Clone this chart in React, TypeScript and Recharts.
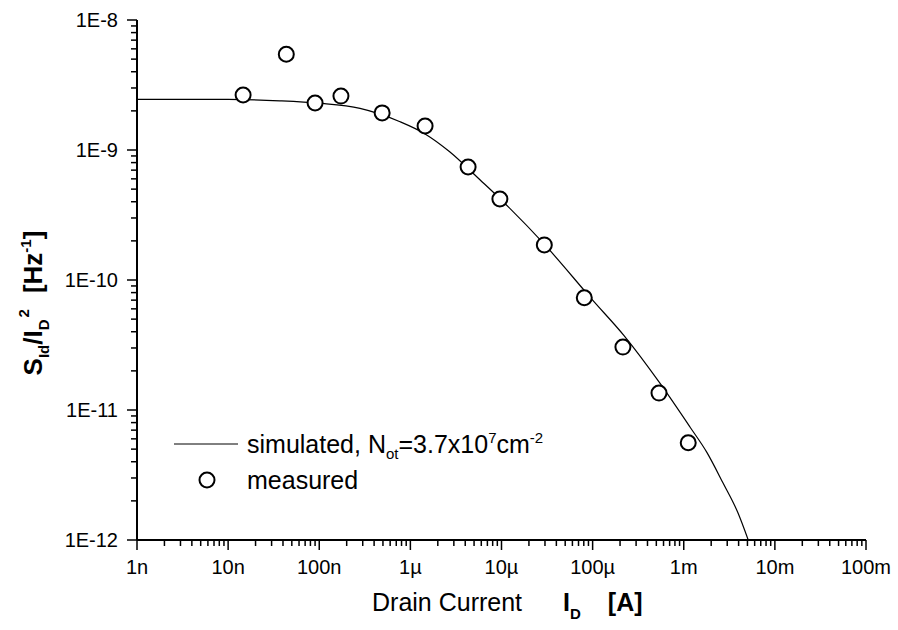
import { ComposedChart, Line, Scatter, XAxis, YAxis, Legend, Label } from 'recharts';

// measured points (drain current in A, normalized noise in 1/Hz)
const measuredCurrent = [1.46e-8, 4.35e-8, 9.0e-8, 1.73e-7, 4.9e-7, 1.45e-6, 4.3e-6, 9.6e-6, 2.95e-5, 8.1e-5, 2.15e-4, 5.35e-4, 1.12e-3];
const measuredNoise = [2.65e-9, 5.45e-9, 2.3e-9, 2.6e-9, 1.93e-9, 1.53e-9, 7.4e-10, 4.2e-10, 1.86e-10, 7.3e-11, 3.05e-11, 1.35e-11, 5.6e-12];

// simulated curve
const simCurrent = [1e-9, 1e-8, 3.7e-8, 1.0e-7, 2.8e-7, 7.7e-7, 1.45e-6, 2.7e-6, 5.8e-6, 9.7e-6, 3.0e-5, 1.0e-4, 2.2e-4, 5.5e-4, 1.17e-3, 1.8e-3, 2.7e-3, 3.9e-3, 5.1e-3];
const simNoise = [2.45e-9, 2.45e-9, 2.39e-9, 2.29e-9, 2.09e-9, 1.65e-9, 1.33e-9, 9.7e-10, 5.9e-10, 4.2e-10, 1.86e-10, 7.0e-11, 3.75e-11, 1.6e-11, 7.4e-12, 4.7e-12, 2.74e-12, 1.64e-12, 1.0e-12];

// axis decades and their labels
const xDecades = [-9, -8, -7, -6, -5, -4, -3, -2, -1];
const xTickLabels = ['1n', '10n', '100n', '1µ', '10µ', '100µ', '1m', '10m', '100m'];
const yDecades = [-12, -11, -10, -9, -8];
const yTickLabels = ['1E-12', '1E-11', '1E-10', '1E-9', '1E-8'];

const measuredData = measuredCurrent.map((x, i) => ({ x, y: measuredNoise[i] }));
const simData = simCurrent.map((x, i) => ({ x, y: simNoise[i] }));

const buildTicks = (decades: number[], labels: string[]) => {
  const ticks: number[] = [];
  const majors = new Map<number, string>();
  decades.forEach((k, i) => {
    const base = Number(`1e${k}`);
    ticks.push(base);
    majors.set(base, labels[i]);
    if (i < decades.length - 1) {
      for (let m = 2; m <= 9; m++) ticks.push(m * base);
    }
  });
  return { ticks, majors };
};

const xt = buildTicks(xDecades, xTickLabels);
const yt = buildTicks(yDecades, yTickLabels);

const FONT = 'Arial, "Liberation Sans", sans-serif';

const XTick = (props: any) => {
  const { x, y, payload } = props;
  const label = xt.majors.get(payload.value);
  return (
    <g>
      <line x1={x} y1={y} x2={x} y2={y + (label ? 10 : 6)} stroke="#000" strokeWidth={1.5} />
      {label && (
        <text x={x} y={y + 34} textAnchor="middle" fontSize={20} fontFamily={FONT} fill="#000">
          {label}
        </text>
      )}
    </g>
  );
};

const YTick = (props: any) => {
  const { x, y, payload } = props;
  const label = yt.majors.get(payload.value);
  return (
    <g>
      <line x1={x} y1={y} x2={x - (label ? 10 : 6)} y2={y} stroke="#000" strokeWidth={1.5} />
      {label && (
        <text x={x - 19} y={y + 7} textAnchor="end" fontSize={20} fontFamily={FONT} fill="#000">
          {label}
        </text>
      )}
    </g>
  );
};

const YTitle = () => (
  <text
    transform="translate(42,303) rotate(-90)"
    textAnchor="middle"
    fontSize={26}
    fontWeight="bold"
    fontFamily={FONT}
    fill="#000"
  >
    S
    <tspan fontSize={15} dy={7}>Id</tspan>
    <tspan dy={-7}>/I</tspan>
    <tspan fontSize={15} dy={7}>D</tspan>
    <tspan fontSize={15} dy={-20} dx={2}>2</tspan>
    <tspan dy={13} dx={16}>[Hz</tspan>
    <tspan fontSize={15} dy={-11}>-1</tspan>
    <tspan dy={11}>]</tspan>
  </text>
);

const XTitle = () => (
  <text x={372} y={611} fontSize={25} fontFamily={FONT} fill="#000">
    Drain Current
    <tspan dx={41} fontWeight="bold">I</tspan>
    <tspan fontWeight="bold" fontSize={15} dy={8}>D</tspan>
    <tspan fontWeight="bold" dx={27} dy={-8}>[A]</tspan>
  </text>
);

const small = { fontSize: 15, lineHeight: 0, position: 'relative' as const };

const LegendBox = () => (
  <div style={{ fontFamily: FONT, fontSize: 25, color: '#000' }}>
    <div style={{ display: 'flex', alignItems: 'center', height: 36, lineHeight: '36px' }}>
      <svg width={64} height={36}>
        <line x1={0} y1={18} x2={64} y2={18} stroke="#000" strokeWidth={1} />
      </svg>
      <span style={{ marginLeft: 9 }}>
        simulated, N<span style={{ ...small, top: 6 }}>ot</span>=3.7x10
        <span style={{ ...small, top: -10 }}>7</span>cm
        <span style={{ ...small, top: -10 }}>-2</span>
      </span>
    </div>
    <div style={{ display: 'flex', alignItems: 'center', height: 36, lineHeight: '36px' }}>
      <svg width={64} height={36}>
        <circle cx={33} cy={18} r={7.5} fill="#fff" stroke="#000" strokeWidth={2} />
      </svg>
      <span style={{ marginLeft: 9 }}>measured</span>
    </div>
  </div>
);

const App = () => {
  return (
    <div style={{ width: 898, height: 630, background: '#fff' }}>
      <style>{'body{margin:0;}'}</style>
      <ComposedChart width={898} height={630} margin={{ top: 20, right: 32, left: 0, bottom: 0 }}>
        <XAxis
          type="number"
          dataKey="x"
          scale="log"
          domain={[1e-9, 1e-1]}
          allowDataOverflow
          ticks={xt.ticks}
          interval={0}
          tick={<XTick />}
          tickLine={false}
          tickSize={0}
          tickMargin={0}
          height={90}
          axisLine={{ stroke: '#000', strokeWidth: 2 }}
        >
          <Label content={<XTitle />} />
        </XAxis>
        <YAxis
          type="number"
          dataKey="y"
          scale="log"
          domain={[1e-12, 1e-8]}
          allowDataOverflow
          ticks={yt.ticks}
          interval={0}
          tick={<YTick />}
          tickLine={false}
          tickSize={0}
          tickMargin={0}
          width={137}
          axisLine={{ stroke: '#000', strokeWidth: 2 }}
        >
          <Label content={<YTitle />} />
        </YAxis>
        <Legend
          layout="horizontal"
          verticalAlign="middle"
          align="center"
          content={<LegendBox />}
          wrapperStyle={{ left: 174, top: 426, width: 420 }}
        />
        <Line
          data={simData}
          dataKey="y"
          type="monotone"
          stroke="#000"
          strokeWidth={1.2}
          dot={false}
          activeDot={false}
          isAnimationActive={false}
        />
        <Scatter
          data={measuredData}
          dataKey="y"
          isAnimationActive={false}
          shape={(p: any) => <circle cx={p.cx} cy={p.cy} r={7.5} fill="#fff" stroke="#000" strokeWidth={2} />}
        />
      </ComposedChart>
    </div>
  );
};

export default App;
